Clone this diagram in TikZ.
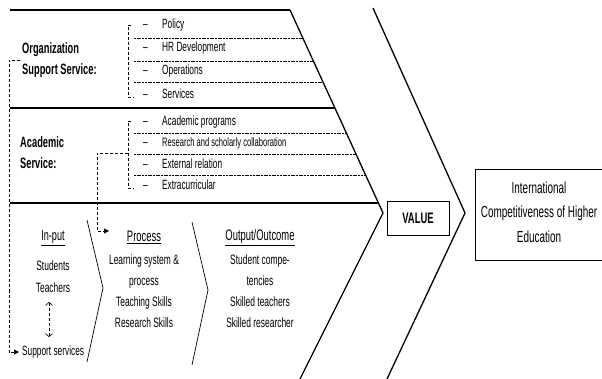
\documentclass[tikz,border=0pt]{standalone}
\usepackage{fontspec}
\setmainfont{Liberation Sans}[FakeStretch=0.62]
\usetikzlibrary{arrows.meta}

\begin{document}
\begin{tikzpicture}[x=1pt,y=-1pt,
  heavy/.style={line width=2pt},
  spine/.style={line width=1.3pt},
  thin/.style={line width=0.7pt},
  sep/.style={dash pattern=on 2pt off 0.7pt, line width=0.6pt},
  bracket/.style={dash pattern=on 3pt off 2pt, line width=0.6pt},
  item/.style={anchor=west, inner sep=0pt, font=\fontsize{13.4}{15}\selectfont},
  side/.style={anchor=west, inner sep=0pt, align=left, font=\bfseries\fontsize{15}{21}\selectfont},
  colhead/.style={inner sep=0pt, font=\fontsize{15.2}{17}\selectfont},
  coltext/.style={inner sep=0pt, align=center, font=\fontsize{13.6}{21}\selectfont},
  fill tip/.style={-{Triangle[length=5pt,width=5pt]}},
]
\useasboundingbox (0,0) rectangle (602,379);

% ---- main spine: upper bone, second chevron ----
\coordinate (a1) at (290,10);
\coordinate (a2) at (383,213);
\coordinate (a3) at (300,379);
\coordinate (b1) at (373,8);
\coordinate (b2) at (465,213);
\coordinate (b3) at (387,379);

\draw[heavy] (10,10) -- (a1);
\draw[spine] (a1) -- (a2) -- (a3);
\draw[spine] (b1) -- (b2) -- (b3);
\draw[heavy] (10,108) -- (335,108);
\draw[spine] (10,203) -- (378,203);

% ---- Organization support service ----
\node[side] (org) at (22,60.5) {Organization\\Support Service:};
\node[item] (i1) at (143,25) {\makebox[19pt][l]{–}Policy};
\node[item] (i2) at (143,48) {\makebox[19pt][l]{–}HR Development};
\node[item] (i3) at (143,71) {\makebox[19pt][l]{–}Operations};
\node[item] (i4) at (143,94) {\makebox[19pt][l]{–}Services};
\draw[sep] (134,38) -- (302.8,38);
\draw[sep] (134,61) -- (313.4,61);
\draw[sep] (134,82) -- (323,82);
\draw[bracket] (131,25) -- (128,25) -- (128,97) -- (134,97);

% ---- Academic service ----
\node[side] (acad) at (20,153) {Academic\\Service:};
\node[item] (j1) at (143,122) {\makebox[19pt][l]{–}Academic programs};
\node[item] (j2) at (143,143) {\makebox[19pt][l]{–}\fontsize{12.2}{14}\selectfont Research and scholarly collaboration};
\node[item] (j3) at (143,164) {\makebox[19pt][l]{–}External relation};
\node[item] (j4) at (143,185) {\makebox[19pt][l]{–}Extracurricular};
\draw[sep] (134,133) -- (346.4,133);
\draw[sep] (134,154) -- (356,154);
\draw[sep] (134,175) -- (365.6,175);
\draw[bracket] (131,121) -- (128,121) -- (128,188) -- (134,188);
\coordinate (abr) at (128,153);

% ---- lower bone: input, process, output ----
\draw[thin] (87,220) -- (103,288) -- (87,362);
\draw[thin] (192,222) -- (208,290) -- (192,365);

\node[colhead, font=\fontsize{14.7}{17}\selectfont] (inh) at (53,238) {\underline{In-put}};
\node[coltext, font=\fontsize{13.6}{22}\selectfont] (inl) at (53,277) {Students\\Teachers};
\node[item] (supp) at (22,352) {Support services};
\coordinate (ua) at (49,302);
\coordinate (ub) at (49,337);
\draw[bracket, {Straight Barb[length=3pt,width=7pt]}-{Straight Barb[length=3pt,width=7pt]}] (ua) -- (ub);

\node[colhead] (proch) at (144,237) {\underline{Process}};
\node[coltext] (procl) at (144,291) {Learning system \&\\process\\Teaching Skills\\Research Skills};

\node[colhead] (outh) at (260,238) {\underline{Output/Outcome}};
\node[coltext] (outl) at (260,291) {Student compe-\\tencies\\Skilled teachers\\Skilled researcher};

% ---- dashed links ----
\coordinate (c1) at (9,60.5);
\draw[bracket, fill tip] ([xshift=-2pt]org.west) -- (c1) |- ([xshift=-3pt]supp.west);
\coordinate (c2) at (97,153);
\coordinate (ptip) at (109,231);
\draw[bracket, fill tip] (abr) -- (c2) |- (ptip);

% ---- value and goal ----
\node[draw, thin, minimum width=62pt, minimum height=34pt, inner sep=0pt,
      font=\bfseries\fontsize{15.2}{17}\selectfont] (val) at (418,218) {VALUE};
\node[draw, thin, minimum width=130pt, minimum height=91pt, inner sep=0pt] (goal) at (540,214.5) {};
\node[align=center, inner sep=0pt, font=\fontsize{16}{24.5}\selectfont] (goaltext) at (539,212) {International\\Competitiveness of Higher\\Education};
\end{tikzpicture}
\end{document}
